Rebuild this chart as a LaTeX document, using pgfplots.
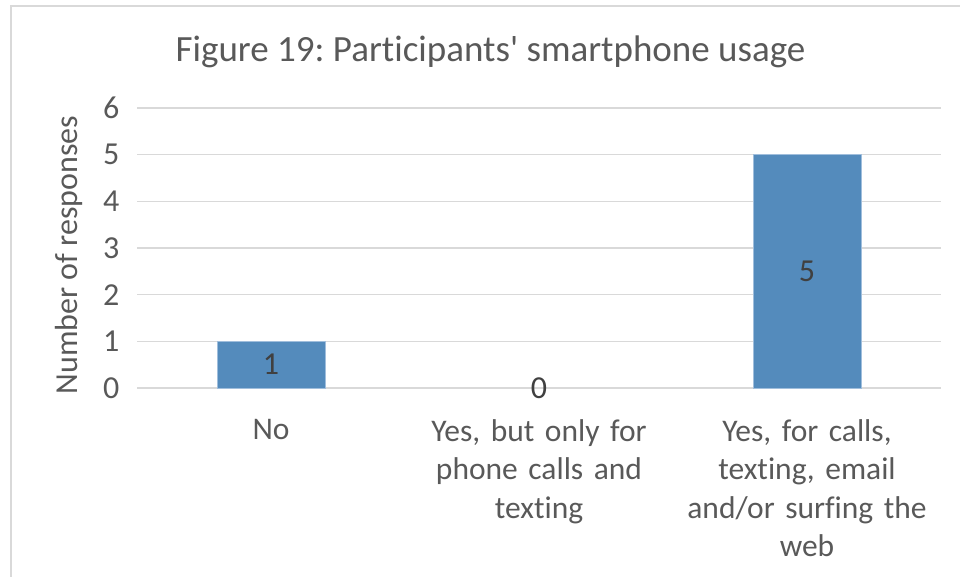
\documentclass[border=0pt]{standalone}
\usepackage{pgfplots}
\pgfplotsset{compat=1.18}
\usepackage{fontspec}
\setmainfont{Carlito}[Ligatures=NoCommon]
\frenchspacing
\definecolor{barblue}{RGB}{84,139,188}
\definecolor{baredge}{RGB}{160,190,220}
\definecolor{gridgrey}{RGB}{217,217,217}
\definecolor{txtgrey}{RGB}{89,89,89}
\definecolor{lblgrey}{RGB}{64,64,64}
\begin{document}
\begin{tikzpicture}
\path[use as bounding box] (0pt,0pt) rectangle (960pt,577pt);
\clip (0pt,0pt) rectangle (960pt,577pt);
\draw[gridgrey, line width=1.5pt] (11pt,-20pt) -- (11pt,571pt) -- (980pt,571pt);
\node[anchor=base, text=txtgrey, font=\fontsize{37}{44}\selectfont] at (490.5pt,515pt) {Figure 19: Participants\textquotesingle{} smartphone usage};
\begin{axis}[
  at={(137pt,189pt)}, anchor=south west,
  scale only axis, width=804pt, height=280pt,
  xmin=-0.5, xmax=2.5, ymin=0, ymax=6,
  ytick={0,1,2,3,4,5,6},
  xtick={0,1,2},
  xticklabels={No, {Yes, but only for\\phone calls and\\texting}, {Yes, for calls,\\texting, email\\and/or surfing the\\web}},
  axis line style={draw=none},
  major tick length=0pt,
  ymajorgrids, major grid style={gridgrey, line width=1.3pt},
  /pgf/number format/assume math mode=true,
  tick label style={text=txtgrey, font=\fontsize{32}{38.5}\selectfont},
  yticklabel style={anchor=east, xshift=-14pt},
  xticklabel style={align=center, anchor=north, text width=260pt, yshift=-28pt, font=\fontsize{31.5}{38.5}\selectfont},
  ylabel={Number of responses},
  ylabel style={text=txtgrey, font=\fontsize{32}{38.5}\selectfont, at={(rel axis cs:-0.0746,0.475)}, anchor=base, rotate=0},
  clip=false,
]
\addplot[ybar, bar width=108pt, fill=barblue, draw=baredge, line width=0.8pt] coordinates {(0,1) (2,5)};
\addplot[draw=none, mark=none, nodes near coords, point meta=explicit symbolic,
  every node near coord/.style={anchor=center, text=lblgrey, font=\fontsize{32}{38.5}\selectfont}]
  coordinates {(0,0.5)[1] (1,0)[0] (2,2.5)[5]};
\end{axis}
\end{tikzpicture}
\end{document}
